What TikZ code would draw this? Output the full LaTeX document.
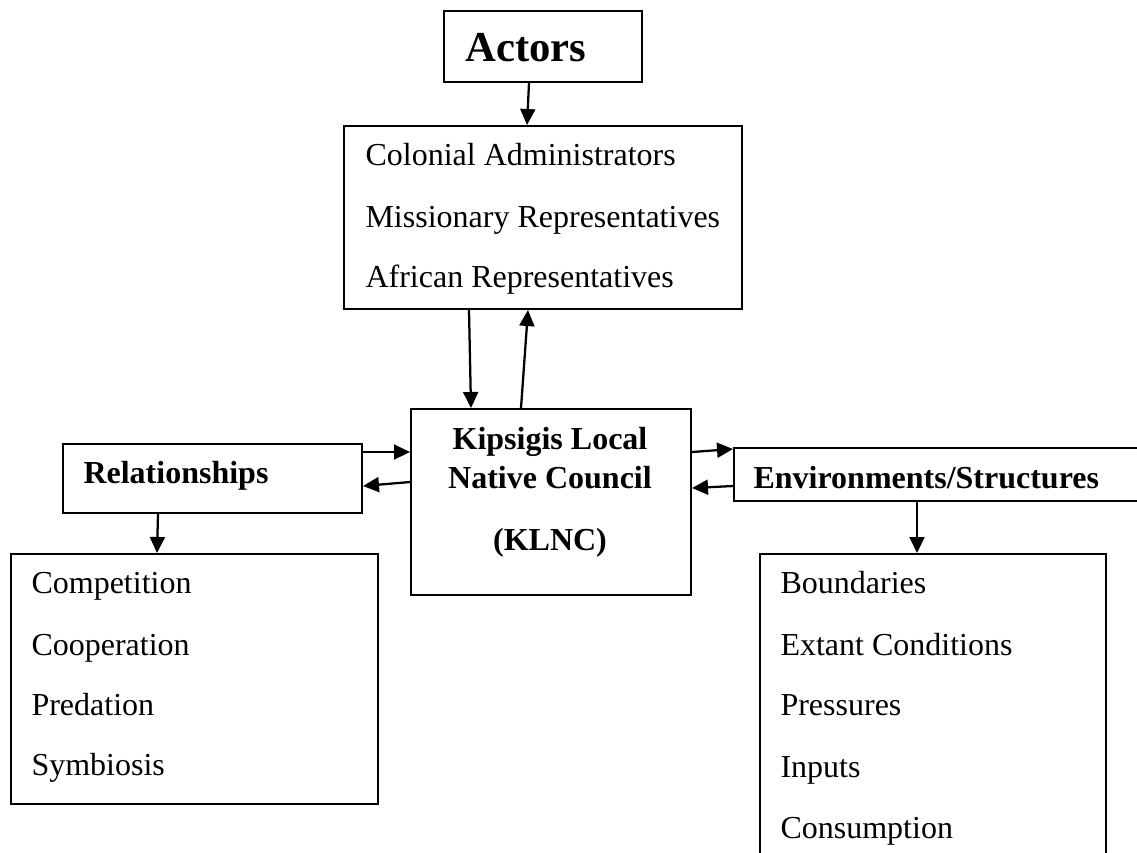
\documentclass[tikz,border=0pt]{standalone}
\usepackage{fontspec}
\setmainfont{Liberation Serif}
\usetikzlibrary{arrows.meta,calc}
\newcommand{\px}{0.375pt}
\begin{document}
\begin{tikzpicture}[x=\px,y=-\px,
		box/.style={draw, line width=0.75pt, rectangle, anchor=north west, inner sep=0pt},
		link/.style={line width=0.85pt, -{Triangle[length=6pt,width=5.6pt]}},
		item/.style={anchor=base west, inner sep=0pt, font=\fontsize{12}{14}\selectfont},
		head/.style={item, font=\fontsize{12}{14}\selectfont\bfseries}]
	\useasboundingbox (0,0) rectangle (1137,852);
	\node[box, minimum width=198*\px, minimum height=71*\px] (actors) at (443,10) {};
	\node[box, minimum width=398*\px, minimum height=183*\px] (actlist) at (343,125) {};
	\node[box, minimum width=280*\px, minimum height=186*\px] (klnc) at (410,408) {};
	\node[box, minimum width=299*\px, minimum height=69*\px] (rel) at (62,443) {};
	\node[box, minimum width=367*\px, minimum height=250*\px] (rellist) at (10,553) {};
	\node[box, minimum width=412*\px, minimum height=53*\px] (env) at (733,447) {};
	\node[box, minimum width=346*\px, minimum height=327*\px] (envlist) at (759,553) {};
	\node[head, font=\fontsize{16}{19}\selectfont\bfseries] (actorstitle) at (465,61) {Actors};
	\node[head] (reltitle) at (83,483) {Relationships};
	\node[head] (envtitle) at (753,488) {Environments/Structures};
	\foreach \y/\name/\txt in {
		449/klncone/Kipsigis Local,
		488/klnctwo/Native Council,
		550/klncthree/(KLNC)
	}
	{
		\node[head, anchor=base] (\name) at (550,\y) {\txt};
	}
	\foreach \y/\name/\txt in {
		165/colonial/Colonial Administrators,
		227/missionary/Missionary Representatives,
		287/african/African Representatives
	}
	{
		\node[item] (\name) at (365,\y) {\txt};
	}
	\foreach \y/\name/\txt in {
		593/competition/Competition,
		655/cooperation/Cooperation,
		715/predation/Predation,
		775/symbiosis/Symbiosis
	}
	{
		\node[item] (\name) at (31,\y) {\txt};
	}
	\foreach \y/\name/\txt in {
		593/boundaries/Boundaries,
		655/extant/Extant Conditions,
		715/pressures/Pressures,
		777/inputs/Inputs,
		838/consumption/Consumption
	}
	{
		\node[item] (\name) at (780,\y) {\txt};
	}
	\draw[link] ($(actors.south west)+(86,0)$) -- ($(actlist.north west)+(184,0)$);
	\draw[link] ($(actlist.south west)+(126,0)$) -- ($(klnc.north west)+(61,0)$);
	\draw[link] ($(klnc.north west)+(111,0)$) -- ($(actlist.south west)+(185,0)$);
	\draw[link] ($(rel.north east)+(0,9)$) -- ($(klnc.north west)+(0,44)$);
	\draw[link] ($(klnc.north west)+(0,74)$) -- ($(rel.north east)+(0,43)$);
	\draw[link] ($(rel.south west)+(96,0)$) -- ($(rellist.north west)+(147,0)$);
	\draw[link] ($(klnc.north east)+(0,44)$) -- ($(env.north west)+(0,2)$);
	\draw[link] ($(env.north west)+(0,39)$) -- ($(klnc.north east)+(0,80)$);
	\draw[link] ($(env.south west)+(184,0)$) -- ($(envlist.north west)+(158,0)$);
\end{tikzpicture}
\end{document}
